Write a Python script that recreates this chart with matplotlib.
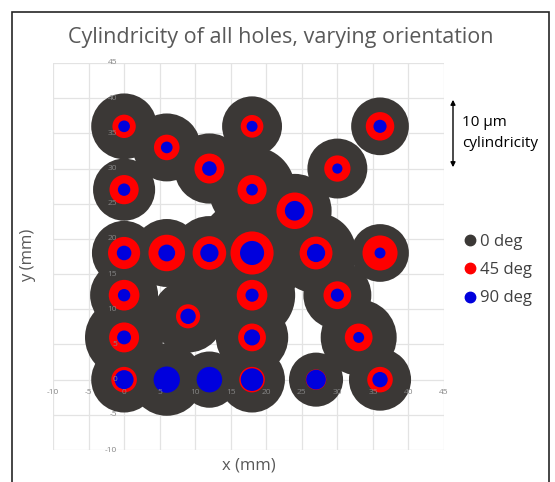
import matplotlib
matplotlib.use('Agg')
import matplotlib.pyplot as plt
from matplotlib.patches import Rectangle, FancyArrowPatch
from matplotlib.lines import Line2D

plt.rcParams['font.family'] = ['Open Sans', 'DejaVu Sans']

# hole positions (mm)
hole_x = [0, 6, 18, 36, 12, 30, 0, 18, 24, 0, 6, 12, 18, 27, 36, 0, 18, 30, 9, 0, 18, 33, 0, 6, 12, 18, 27, 36]
hole_y = [36, 33, 36, 36, 30, 30, 27, 27, 24, 18, 18, 18, 18, 18, 18, 12, 12, 12, 9, 6, 6, 6, 0, 0, 0, 0, 0, 0]

# cylindricity (um) per orientation
cyl_0 = [9.0, 9.3, 8.2, 7.9, 9.6, 8.2, 8.5, 11.8, 10.1, 8.8, 9.3, 10.1, 15.1, 11.0,
         7.9, 9.3, 11.8, 9.3, 9.9, 10.7, 9.9, 10.4, 9.0, 9.9, 7.7, 9.0, 7.4, 8.5]
cyl_45 = [3.2, 3.5, 3.1, 3.9, 4.1, 3.6, 4.0, 4.0, 5.0, 4.4, 5.0, 4.6, 5.9, 4.5,
          4.8, 4.2, 4.2, 3.8, 3.3, 4.1, 3.8, 3.8, 3.5, 2.0, 2.0, 3.5, 2.8, 3.5]
cyl_90 = [1.6, 1.6, 1.5, 1.8, 2.0, 1.4, 1.7, 1.6, 2.7, 2.0, 2.3, 2.5, 3.3, 2.5,
          1.5, 1.7, 1.8, 1.8, 2.1, 1.9, 2.2, 1.5, 2.6, 3.6, 3.5, 3.1, 2.7, 2.1]

series = [('0 deg', cyl_0, '#3b3836'), ('45 deg', cyl_45, '#ff0000'), ('90 deg', cyl_90, '#0000dd')]
ticks = list(range(-10, 50, 5))

PT_PER_UM = 5.26  # bubble diameter in points per um

fig = plt.figure(figsize=(5.55, 4.82), dpi=100)
ax = fig.add_axes([53 / 555, 1 - 450 / 482, (444 - 53) / 555, (450 - 63) / 482])

for t in ticks:
    ax.axvline(t, color='#e3e3e3', lw=0.9, zorder=0)
    ax.axhline(t, color='#e3e3e3', lw=0.9, zorder=0)

for i, (name, vals, col) in enumerate(series):
    ax.scatter(hole_x, hole_y, s=[(PT_PER_UM * v) ** 2 for v in vals], color=col,
               edgecolors='none', zorder=1 + i, clip_on=False)

ax.set_xlim(-10, 45)
ax.set_ylim(-10, 45)
ax.set_xticks([])
ax.set_yticks([])
for s in ax.spines.values():
    s.set_visible(False)

# tick labels at the crossing axes
for t in ticks:
    ax.annotate(str(t), (t, 0), xytext=(0, -9), textcoords='offset points', ha='center', va='center',
                fontsize=6, color='#858585', zorder=10)
    ax.annotate(str(t), (0, t), xytext=(-5, 0), textcoords='offset points', ha='right', va='center',
                fontsize=6, color='#858585', zorder=10)

fig.text(281 / 555, 1 - 38 / 482, 'Cylindricity of all holes, varying orientation', ha='center', va='center',
         fontsize=15.5, color='#595959')
fig.text(249 / 555, 1 - 465 / 482, 'x (mm)', ha='center', va='center', fontsize=12, color='#595959')
fig.text(28 / 555, 1 - 255 / 482, 'y (mm)', ha='center', va='center', rotation=90, fontsize=12, color='#595959')

# size scale arrow
fig.add_artist(FancyArrowPatch((453 / 555, 1 - 97 / 482), (453 / 555, 1 - 170 / 482),
                               transform=fig.transFigure, arrowstyle='<|-|>',
                               mutation_scale=7, color='black', lw=1))
fig.text(462 / 555, 1 - 133 / 482, '10 µm\ncylindricity', ha='left', va='center', fontsize=11,
         color='black', linespacing=1.55)

# legend
handles = [Line2D([], [], marker='o', ls='none', color=col, markersize=7.5) for _, _, col in series]
leg = fig.legend(handles, [n for n, _, _ in series], loc='center left', bbox_to_anchor=(452 / 555, 1 - 270 / 482),
                 frameon=False, fontsize=12, handletextpad=0.0, labelspacing=0.75, handlelength=1.2,
                 borderpad=0)
for txt in leg.get_texts():
    txt.set_color('#404040')

fig.add_artist(Rectangle((12 / 555, -0.05), (549 - 12) / 555, 1 - 12 / 482 + 0.05, transform=fig.transFigure,
                         fill=False, edgecolor='#262626', lw=1.2))

fig.savefig('out.png', dpi=100)
